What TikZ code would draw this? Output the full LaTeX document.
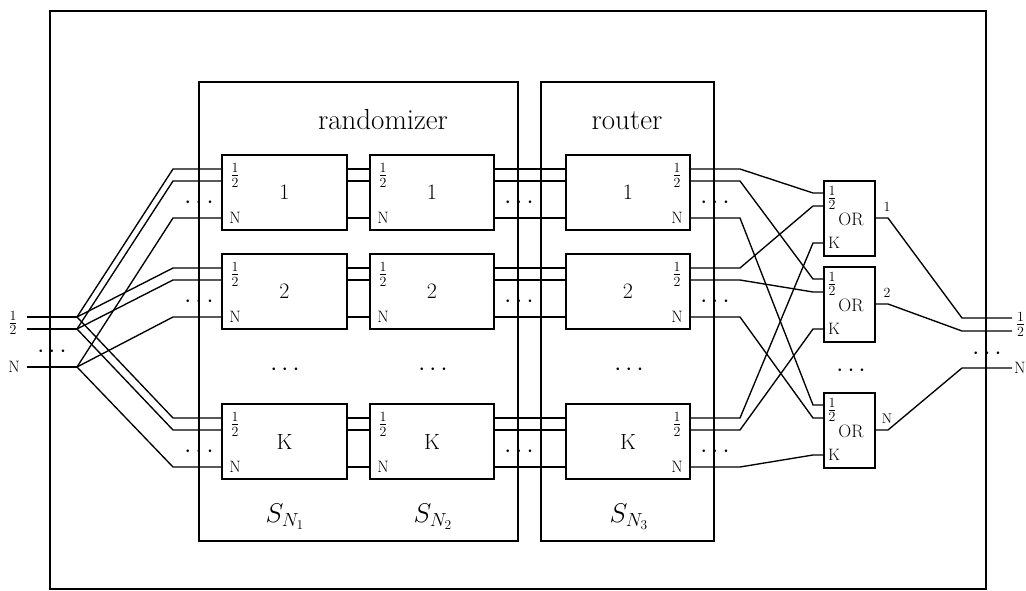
\RequirePackage{fix-cm}
\documentclass[tikz,border=0pt]{standalone}
\usepackage{fontspec}
\begin{document}
\begin{tikzpicture}[x=1pt,y=-1pt,
  every node/.style={inner sep=0pt,outer sep=0pt},
  ln/.style={line width=1.35pt},
  frm/.style={draw,line width=1.35pt,anchor=north west},
  swbox/.style={draw,line width=1.35pt,anchor=north west,minimum width=125pt,minimum height=75pt,font=\fontsize{22}{22}\selectfont},
  orbox/.style={draw,line width=1.35pt,anchor=north west,minimum width=51pt,minimum height=75pt},
  ttl/.style={font=\fontsize{29}{29}\selectfont,anchor=base},
  slbl/.style={font=\fontsize{27}{27}\selectfont},
  plbl/.style={font=\fontsize{16.5}{16.5}\selectfont},
  frc/.style={font=\fontsize{20}{20}\selectfont},
  olbl/.style={font=\fontsize{18}{18}\selectfont},
  nlbl/.style={font=\fontsize{14}{14}\selectfont},
  dts/.style={font=\fontsize{25}{25}\selectfont},
]
\useasboundingbox (0,0) rectangle (1026,591);
% frames
\node[frm,minimum width=936pt,minimum height=578pt] (outer) at (50,11) {};
\node[frm,minimum width=319pt,minimum height=459pt] (rand) at (199,82) {};
\node[frm,minimum width=173pt,minimum height=459pt] (rout) at (541,82) {};
\node[ttl] (randt) at (383,130) {randomizer};
\node[ttl] (routt) at (627,130) {router};
\node[slbl] (s1) at (285,517) {$S_{N_1}$};
\node[slbl] (s2) at (433,517) {$S_{N_2}$};
\node[slbl] (s3) at (629,517) {$S_{N_3}$};
% switch boxes
\foreach \i/\t/\l in {1/155/1,2/254/2,3/404/K}{
  \node[swbox] (a\i) at (222,\t) {\l};
  \node[swbox,minimum width=124pt] (b\i) at (370,\t) {\l};
  \node[swbox,minimum width=124pt] (c\i) at (566,\t) {\l};
  \node[frc] (a\i f) at (235,{\t+20.5}) {$\frac{1}{2}$};
  \node[plbl] (a\i n) at (235,{\t+63}) {N};
  \node[frc] (b\i f) at (383,{\t+20.5}) {$\frac{1}{2}$};
  \node[plbl] (b\i n) at (383,{\t+63}) {N};
  \node[frc] (c\i f) at (677,{\t+20.5}) {$\frac{1}{2}$};
  \node[plbl] (c\i n) at (677,{\t+63}) {N};
  \node[dts] (d1\i) at (199,{\t+48}) {$\cdots$};
  \node[dts] (d2\i) at (519,{\t+48}) {$\cdots$};
  \node[dts] (d3\i) at (715,{\t+48}) {$\cdots$};
  \foreach \j/\d in {1/14,2/26,3/63}{
    \coordinate (f\i\j) at (173,{\t+\d});
    \coordinate (a\i-i\j) at (222,{\t+\d});
    \coordinate (a\i-o\j) at (347,{\t+\d});
    \coordinate (b\i-i\j) at (370,{\t+\d});
    \coordinate (b\i-o\j) at (494,{\t+\d});
    \coordinate (c\i-i\j) at (566,{\t+\d});
    \coordinate (c\i-o\j) at (690,{\t+\d});
    \coordinate (g\i\j) at (740,{\t+\d});
  }
}
% row dots
\node[dts] (rd1) at (285,370) {$\cdots$};
\node[dts] (rd2) at (433,370) {$\cdots$};
\node[dts] (rd3) at (629,370) {$\cdots$};
\node[dts] (rd4) at (851,371) {$\cdots$};
% OR boxes
\foreach \k/\t/\l in {1/181/1,2/267/2,3/393/N}{
  \node[orbox] (or\k) at (824,\t) {};
  \node[frc] (or\k f) at (832,{\t+17}) {$\frac{1}{2}$};
  \node[olbl] (or\k t) at (851,{\t+38}) {OR};
  \node[plbl] (or\k k) at (834,{\t+62}) {K};
  \node[nlbl] (or\k o) at (887,{\t+26}) {\l};
  \foreach \i/\d in {1/12,2/25,3/62}{
    \coordinate (or\k-s\i) at (813,{\t+\d});
    \coordinate (or\k-p\i) at (824,{\t+\d});
  }
  \coordinate (or\k-q) at (875,{\t+37});
  \coordinate (or\k-r) at (888,{\t+37});
}
% inputs and outputs
\foreach \j/\y/\z in {1/317/318,2/329/331,3/367/368}{
  \coordinate (in\j) at (27,\y);
  \coordinate (fan\j) at (77,\y);
  \coordinate (outb\j) at (962,\z);
  \coordinate (out\j) at (1012,\z);
}
\node[frc] (inl) at (13,323) {$\frac{1}{2}$};
\node[plbl] (inN) at (14,367) {N};
\node[dts] (ind) at (52,352) {$\cdots$};
\node[frc,anchor=west] (outl) at (1016,324.5) {$\frac{1}{2}$};
\node[plbl,anchor=west] (outN) at (1014,368) {N};
\node[dts] (outd) at (987,354) {$\cdots$};
% wires
\foreach \i in {1,2,3}{
  \foreach \j in {1,2,3}{
    \draw[ln] (fan\j) -- (f\i\j) -- (a\i-i\j);
    \draw[ln] (a\i-o\j) -- (b\i-i\j);
    \draw[ln] (b\i-o\j) -- (c\i-i\j);
    \draw[ln] (c\i-o\j) -- (g\i\j) -- (or\j-s\i) -- (or\j-p\i);
  }
}
\foreach \j in {1,2,3}{
  \draw[ln] (in\j) -- (fan\j);
  \draw[ln] (or\j-q) -- (or\j-r) -- (outb\j) -- (out\j);
}
\end{tikzpicture}
\end{document}
